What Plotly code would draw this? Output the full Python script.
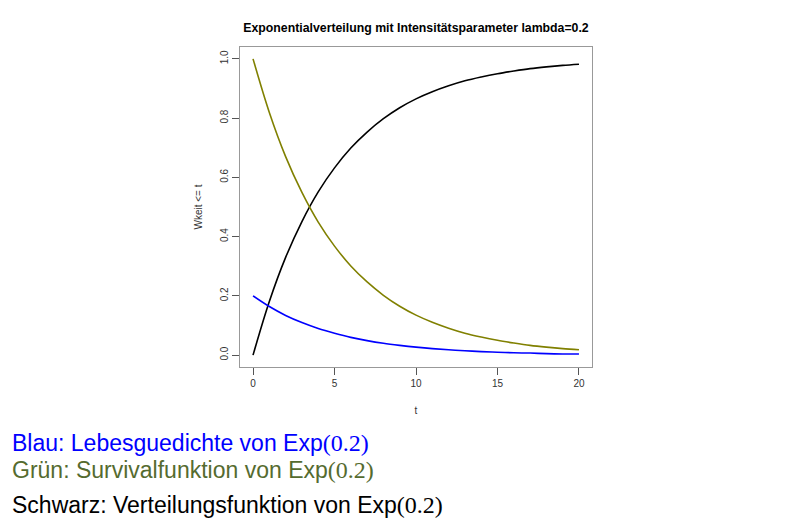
import plotly.graph_objects as go

# Zeitpunkte und Funktionswerte der Exp(0.2)-Verteilung
t = [0, 1, 2, 3, 4, 5, 6, 7, 8, 9, 10, 11, 12, 13, 14, 15, 16, 17, 18, 19, 20]
dichte = [0.200, 0.164, 0.134, 0.110, 0.090, 0.074, 0.060, 0.049, 0.040, 0.033,
          0.027, 0.022, 0.018, 0.015, 0.012, 0.010, 0.008, 0.007, 0.005, 0.004, 0.004]
survival = [1.000, 0.819, 0.670, 0.549, 0.449, 0.368, 0.301, 0.247, 0.202, 0.165,
            0.135, 0.111, 0.091, 0.074, 0.061, 0.050, 0.041, 0.033, 0.027, 0.022, 0.018]
verteilung = [0.000, 0.181, 0.330, 0.451, 0.551, 0.632, 0.699, 0.753, 0.798, 0.835,
              0.865, 0.889, 0.909, 0.926, 0.939, 0.950, 0.959, 0.967, 0.973, 0.978, 0.982]

x_ticks = [0, 5, 10, 15, 20]
y_ticks = [0.0, 0.2, 0.4, 0.6, 0.8, 1.0]
y_tick_text = ["0.0", "0.2", "0.4", "0.6", "0.8", "1.0"]

titel = "Exponentialverteilung mit Intensitätsparameter lambda=0.2"
legende = [
    ("Blau: Lebesguedichte von Exp", "#0000ff"),
    ("Grün: Survivalfunktion von Exp", "#556b2f"),
    ("Schwarz: Verteilungsfunktion von Exp", "#000000"),
]

# Plotbereich in Pixeln
L, R, T, B = 240, 592, 47, 367
W, H = 811, 528

fig = go.Figure()
fig.add_trace(go.Scatter(x=t, y=verteilung, mode="lines", line=dict(color="#000000", width=1.6, shape="spline")))
fig.add_trace(go.Scatter(x=t, y=survival, mode="lines", line=dict(color="#808000", width=1.6, shape="spline")))
fig.add_trace(go.Scatter(x=t, y=dichte, mode="lines", line=dict(color="#0000ff", width=1.6, shape="spline")))

tick_font = dict(family="Liberation Sans, Arial, sans-serif", size=10, color="#333333")

fig.update_layout(
    width=W, height=H,
    margin=dict(l=L, r=W - R, t=T, b=H - B),
    paper_bgcolor="white", plot_bgcolor="white",
    showlegend=False,
    title=dict(text="<b>" + titel + "</b>", x=416 / W, xanchor="center", y=1 - 28 / H, yanchor="middle",
               font=dict(family="Liberation Sans, Arial, sans-serif", size=12.3, color="#000000")),
    xaxis=dict(range=[-0.8, 20.8], tickvals=x_ticks, ticks="outside", ticklen=7, tickcolor="#555555",
               showgrid=False, zeroline=False, showline=True, mirror=True, linecolor="#999999", linewidth=1,
               tickfont=tick_font,
               title=dict(text="t", font=tick_font, standoff=18)),
    yaxis=dict(range=[-0.04, 1.04], tickvals=y_ticks, ticktext=y_tick_text, ticks="outside", ticklen=7,
               tickcolor="#555555", tickangle=-90,
               showgrid=False, zeroline=False, showline=True, mirror=True, linecolor="#999999", linewidth=1,
               tickfont=tick_font,
               title=dict(text="Wkeit <= t", font=tick_font, standoff=14)),
)

zeilen_y = [443, 470, 505]
for (text, farbe), yp in zip(legende, zeilen_y):
    fig.add_annotation(
        text=text + '<span style="font-family:Liberation Serif, Times New Roman, serif;font-size:24px">(0.2)</span>',
        xref="paper", yref="paper", x=(10 - L) / (R - L), y=(B - yp) / (B - T),
        xanchor="left", yanchor="middle",
        showarrow=False, font=dict(family="Liberation Sans, Arial, sans-serif", size=23, color=farbe),
    )

fig.write_html("out.html")
